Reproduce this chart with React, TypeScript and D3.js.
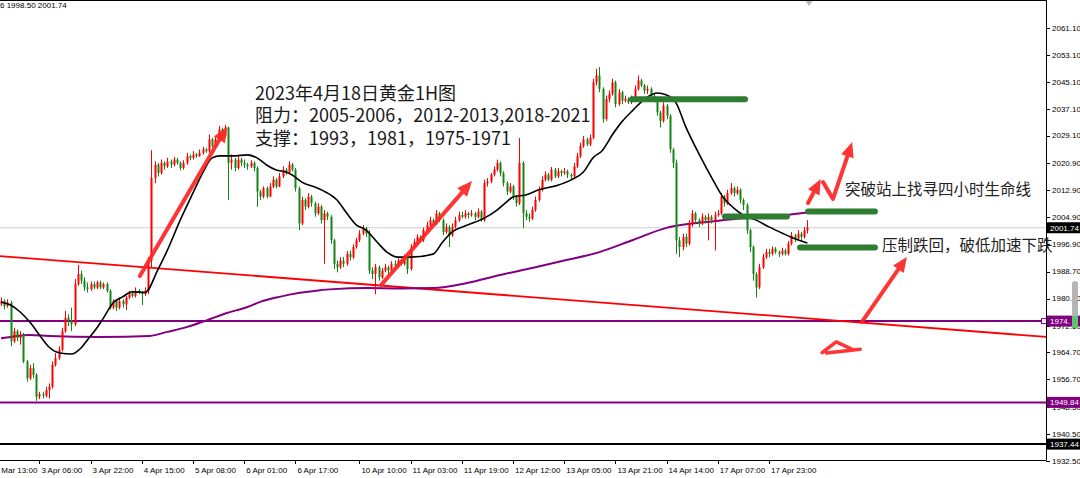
import React from 'react';
import * as d3 from 'd3';

// ---------- DATA ----------
const OPEN0 = 1979;
const closes = [
  1980, 1978.5, 1979.5, 1968, 1971, 1969, 1970, 1962, 1957, 1960,
  1958, 1951.5, 1952.2, 1951.8, 1953.5, 1954.5, 1961, 1963, 1965.5, 1971,
  1975, 1974, 1973, 1985, 1988, 1986, 1984, 1983.5, 1985, 1984,
  1985.5, 1984, 1985, 1983, 1978, 1980, 1978, 1980, 1979, 1981,
  1982.5, 1981.5, 1983, 1982.5, 1982, 1983, 1992, 2016.5, 2020.5, 2018,
  2021, 2020, 2021.5, 2020.5, 2022, 2021, 2019.5, 2021, 2023, 2022.5,
  2023.5, 2023, 2024, 2025, 2024.5, 2028, 2026, 2028, 2031, 2029,
  2031.5, 2021, 2022, 2019.5, 2022, 2021, 2020.5, 2020, 2021, 2019.5,
  2012.5, 2011, 2013.5, 2011, 2014, 2016, 2014, 2017, 2019, 2018,
  2020.5, 2019, 2013.5, 2003, 2010, 2008, 2011, 2009, 2006, 2008,
  2004, 2006, 2005, 1998, 1991, 1990, 1992, 1991, 1994, 1993,
  1996, 1998, 2000, 2001.5, 2000, 1989, 1988, 1990, 1987, 1989,
  1990, 1989, 1991, 1990.5, 1992, 1991, 1993, 1989.5, 1996, 1997.5,
  1999, 1998, 2001, 2002.5, 2004, 2003, 2006, 2004, 2000.5, 2002,
  1999.5, 2002, 2004, 2005.5, 2005, 2006, 2005.5, 2006, 2005, 2006.5,
  2004, 2015, 2015.5, 2017.5, 2019, 2021, 2018, 2015, 2012.5, 2014,
  2011, 2009, 2021, 2006, 2005, 2004.5, 2007, 2010, 2013, 2016,
  2017.5, 2016, 2019, 2017, 2018.5, 2018, 2018.5, 2017.5, 2017, 2020,
  2023, 2026, 2028, 2026.5, 2028.5, 2045, 2047, 2043, 2034, 2040,
  2041.5, 2045, 2038.5, 2042, 2039.5, 2040, 2039, 2040.5, 2043, 2045.5,
  2044, 2042.5, 2043, 2041, 2040, 2036, 2033.5, 2038, 2035, 2025,
  2021, 1998, 1996, 1999, 1997, 2003, 2006, 2004, 2003, 2005,
  2004, 2005, 2004, 2005.5, 2006, 2011, 2009, 2012, 2013.5, 2012,
  2013, 2010, 2008.5, 2001, 1996, 1988, 1984, 1990, 1993, 1994.5,
  1994, 1995.5, 1994.5, 1994, 1995, 1994, 1997, 1999.5, 1998.5, 2000,
  1999, 2001, 2001.74,
];
const highs = [
  1981, 1980.5, 1980.5, 1980, 1972, 1971.5, 1971, 1970.5, 1962.5, 1961,
  1961.5, 1958.5, 1953, 1953, 1954.5, 1955.5, 1962, 1964.5, 1966.5, 1972,
  1977, 1976, 1978, 1986.5, 1990.7, 1989, 1987, 1985.5, 1985.8, 1985.8,
  1986, 1986, 1985.5, 1985.5, 1983.5, 1980.5, 1980.5, 1981, 1980.5, 1981.5,
  1983, 1983, 1984, 1983.5, 1983, 1984, 1993, 2024.8, 2021.5, 2021,
  2022, 2021.5, 2022.5, 2022, 2022.8, 2022.5, 2021.5, 2021.8, 2024, 2023.5,
  2024.5, 2024, 2025, 2025.8, 2025.5, 2029.5, 2028.5, 2028.8, 2032, 2031.5,
  2032.3, 2031.8, 2023.5, 2022.5, 2023, 2022.5, 2022, 2021, 2021.8, 2021.5,
  2020, 2013, 2014, 2014, 2015, 2017, 2016.5, 2018, 2020, 2019.5,
  2021.5, 2021, 2019.5, 2014, 2011, 2010.5, 2012, 2011.5, 2009.5, 2009,
  2008.5, 2007, 2006.5, 2005.5, 1998.5, 1992, 1993, 1993, 1994.8, 1995,
  1996.8, 1998.8, 2001, 2002.5, 2002, 2001, 1990, 1991, 1990.5, 1989.8,
  1991, 1990.5, 1991.8, 1992, 1992.8, 1992.5, 1993.8, 1993.5, 1996.8, 1998.5,
  1999.8, 1999.5, 2001.8, 2003.5, 2005, 2004.5, 2007, 2006.5, 2004.5, 2003,
  2002.5, 2003, 2005, 2006.5, 2006.5, 2007, 2006.5, 2007, 2006.5, 2007.5,
  2007, 2016, 2016.5, 2018, 2020, 2022, 2021.5, 2018.5, 2015.5, 2015,
  2014.5, 2011.5, 2028.4, 2021.5, 2007, 2006, 2008, 2011, 2014, 2017,
  2018.5, 2018, 2019.8, 2019.5, 2019.5, 2019, 2019.5, 2019, 2018, 2021,
  2024, 2027, 2029, 2028.5, 2029.5, 2046, 2049, 2049.5, 2043.5, 2041,
  2042.5, 2046, 2045.5, 2043, 2042.5, 2041, 2040.5, 2041, 2044, 2047,
  2046, 2044.5, 2044, 2043.5, 2041.5, 2040.5, 2036.5, 2039, 2038.5, 2035.5,
  2025.5, 2022, 1999, 2000, 2000, 2004, 2007, 2006.5, 2004.5, 2006,
  2005.5, 2006, 2005.5, 2006.5, 2007, 2012, 2011.5, 2013, 2015, 2014,
  2014, 2013.5, 2010.5, 2009, 2001.5, 1996.5, 1988.5, 1991, 1994, 1995.5,
  1995.5, 1996.2, 1996, 1995, 1995.8, 1995.5, 1997.8, 2000.5, 2000, 2001,
  2000.5, 2002, 2004,
];
const lows = [
  1978.5, 1977.5, 1978, 1966.5, 1967.5, 1968, 1967, 1961.5, 1956, 1956.5,
  1957, 1950.3, 1950.8, 1951, 1951.3, 1951, 1954, 1960.5, 1962.5, 1965,
  1970.5, 1972.5, 1971, 1972.5, 1984.5, 1985, 1983, 1982.5, 1983, 1983.5,
  1983.5, 1983.5, 1983.5, 1982.5, 1977.5, 1977.5, 1977, 1977.5, 1978, 1977.3,
  1980.5, 1981, 1981, 1982, 1978.8, 1981.5, 1982, 1990, 2015, 2017,
  2017.5, 2019, 2019.5, 2019.5, 2020, 2020.5, 2018.8, 2019, 2020.5, 2021.8,
  2022, 2022.5, 2022.8, 2023.5, 2024, 2024, 2025.5, 2025.5, 2027.5, 2028,
  2028.5, 2010, 2019, 2018.5, 2019, 2020, 2019.5, 2019, 2019.5, 2018.5,
  2008, 2010, 2010.5, 2010.5, 2010.8, 2013.5, 2013.5, 2013.8, 2016.5, 2017.5,
  2017.8, 2018.5, 2012.5, 2001, 2002.5, 2007, 2007.5, 2008, 2005, 2005.5,
  2003, 1991, 2004, 1997, 1989.5, 1988.5, 1989.5, 1990, 1990.5, 1992,
  1992.5, 1995.5, 1997.5, 1999.5, 1999, 1988, 1986.5, 1982, 1986, 1986.5,
  1988.5, 1988, 1988.5, 1989.5, 1990, 1990.5, 1990.5, 1988, 1989, 1995.5,
  1997, 1997.5, 1997.5, 2000.5, 2002, 2002.5, 2002.5, 2003.5, 1999.5, 2000,
  1996, 1999, 2001.5, 2003.5, 2004.5, 2004.5, 2004.5, 2005, 2004, 2004.5,
  2003.5, 2003.5, 2014, 2015, 2017, 2018.5, 2017, 2014, 2011.5, 2012,
  2010, 2008, 2008.5, 2001.6, 2004, 2003.5, 2004, 2006.5, 2009.5, 2012.5,
  2015.5, 2015.5, 2015.5, 2016.5, 2016.5, 2017, 2017.5, 2016.5, 2016, 2016.5,
  2019.5, 2022.5, 2025.5, 2026, 2026, 2028, 2044, 2042, 2033, 2033.5,
  2039, 2041, 2037.5, 2038, 2038.5, 2039, 2038.5, 2038.5, 2040, 2042.5,
  2043.5, 2041.5, 2041.5, 2040, 2039, 2035, 2031.5, 2033, 2034, 2024,
  2019.5, 1994, 1993, 1995, 1996, 1996.5, 2002, 2003, 2002, 2002.5,
  2003, 1998, 2003, 1995, 2005, 2005.5, 2008, 2008.5, 2011.5, 2011,
  2011.5, 2009, 2007, 2000, 1994.5, 1986, 1981, 1983.5, 1989.5, 1992.5,
  1993, 1993.5, 1994, 1993, 1993.5, 1993.5, 1993.5, 1996.5, 1997.5, 1998,
  1998, 1998.5, 2000,
];

// moving averages: [bar index, price]
const blackMA: [number, number][] = [
  [0, 1979.7], [3, 1978.8], [6, 1976.7], [9, 1973.7], [12, 1969.9], [15, 1966.3], [18.5, 1964.5],
  [22, 1964.2], [25, 1966], [27, 1968.4], [30, 1972], [32, 1974.9], [35, 1979.4], [38, 1981.2],
  [41, 1982.7], [45, 1982.5], [49, 1989.2], [52, 1995.1], [56, 2004], [60, 2012.1], [63, 2018],
  [66, 2022.5], [68.4, 2023.1], [72.5, 2023.1], [77, 2023.4], [80, 2022.5], [83, 2020.4],
  [86, 2018.9], [89, 2018.3], [91, 2017.4], [94, 2015.3], [99, 2013.5], [103, 2011.5], [105, 2010],
  [108, 2006.1], [111, 2002.6], [114, 2001.1], [117.5, 1997.5], [120.6, 1994.5], [124, 1993],
  [128, 1993], [135, 1993.9], [138, 1997.5], [141, 2000.5], [146, 2002.6], [151, 2004.6],
  [155, 2007], [158, 2009.4], [160, 2010.9], [164, 2011.5], [168, 2013], [174, 2014.4],
  [178, 2015.9], [182, 2018.3], [185, 2022.5], [188, 2024.8], [191, 2029.3], [194, 2033.2],
  [197.5, 2036.7], [202, 2040.6], [205, 2041.8], [208, 2041.2], [211, 2038.8], [214, 2031.7],
  [218, 2023.9], [222.5, 2015.9], [225.6, 2010.9], [229, 2007.6], [232, 2005.5], [236, 2004],
  [240, 2002], [244, 2000.2], [247.5, 1998.7], [252, 1997.2],
];
const purpleMA: [number, number][] = [
  [0, 1968.9], [3, 1969.3], [9, 1969.9], [15, 1969.6], [31, 1969.3], [46.5, 1969.6], [52, 1970.8],
  [58, 1972.2], [64.4, 1974.3], [70.6, 1976.4], [77, 1978.2], [81, 1979.7], [87, 1981.2],
  [93.4, 1982.4], [99.7, 1983.2], [104, 1983.5], [114, 1983.8], [125, 1983.7], [135, 1983.8],
  [145.6, 1985.3], [156, 1987.7], [166, 1989.8], [177, 1992.2], [187, 1994.5], [197.5, 1998.1],
  [208, 2001.7], [213, 2002.6], [218, 2003.2], [228.7, 2004.3], [239, 2004.9], [252, 2006.3],
];

const trendLine: [number, number][] = [[-0.3, 1993.3], [326.6, 1969.3]];
const purpleLevels = [1974, 1949.84];
const blackLevel = 1937.44;
const lastPrice = 2001.74;

const greenMarks: [number, number][][] = [
  [[197.2, 2039.9], [232.5, 2039.9]],
  [[226.25, 2005.1], [245.6, 2005.1]],
  [[252.2, 2006.6], [273.1, 2006.6]],
  [[249.7, 1995.9], [273.1, 1995.9]],
];
const redArrows: [number, number][][] = [
  [[43.4, 1987.4], [70.6, 2031.7]],
  [[118.75, 1984.7], [147.2, 2015.6]],
  [[252.2, 2009.1], [256.2, 2016.2]],
  [[256.9, 2015.3], [260, 2010.3], [266, 2027.2]],
  [[269, 1973.7], [283.1, 1993.05]],
];
const redScribble: [number, number][] = [
  [256.6, 1964.6], [261, 1967.8], [266.5, 1965.4], [258, 1964.5], [268.5, 1965.6],
];

const yTickValues = [2061.1, 2053.1, 2045.1, 2037.1, 2029.1, 2020.9, 2012.9, 2004.9, 1996.9,
  1988.7, 1980.7, 1972.5, 1964.7, 1956.7, 1948.5, 1940.5, 1932.5];
const xTickBars = [-4, 12, 28, 44, 60, 76, 92, 112, 128, 144, 160, 176, 192, 208, 224, 240];
const xTickLabels = ['31 Mar 13:00', '3 Apr 06:00', '3 Apr 22:00', '4 Apr 15:00', '5 Apr 08:00',
  '6 Apr 01:00', '6 Apr 17:00', '10 Apr 10:00', '11 Apr 03:00', '11 Apr 19:00', '12 Apr 12:00',
  '13 Apr 05:00', '13 Apr 21:00', '14 Apr 14:00', '17 Apr 07:00', '17 Apr 23:00'];

const titleLines = ['2023年4月18日黄金1H图', '阻力：2005-2006，2012-2013,2018-2021', '支撑：1993，1981，1975-1971'];
const noteUp = '突破站上找寻四小时生命线';
const noteDown = '压制跌回，破低加速下跌';

// ---------- CHART ----------
const W = 1080, H = 478;
const PR = 1046, PB = 460;
const UP = '#ff0000', DOWN = '#138613', PURPLE = '#800080', GREENMARK = '#2e7d32', ARROW = '#ff2424';
const AXFONT = "'Liberation Sans', Arial, sans-serif";
const CJK = "'Noto Sans CJK SC', sans-serif";

export default function App() {
  const x = d3.scaleLinear().domain([0, 252]).range([1, 807.4]);
  const y = d3.scaleLinear().domain([1932.72, 2069.42]).range([PB, 0]);
  const line = d3.line<[number, number]>().x(d => x(d[0])).y(d => y(d[1]));
  const smooth = d3.line<[number, number]>().x(d => x(d[0])).y(d => y(d[1])).curve(d3.curveMonotoneX);

  const candles = closes.map((c, i) => {
    const o = i === 0 ? OPEN0 : closes[i - 1];
    return { i, o, c, h: highs[i], l: lows[i] };
  });

  const arrowHead = (pts: [number, number][]) => {
    const n = pts.length;
    const [x1, y1] = [x(pts[n - 2][0]), y(pts[n - 2][1])];
    const [x2, y2] = [x(pts[n - 1][0]), y(pts[n - 1][1])];
    const a = Math.atan2(y2 - y1, x2 - x1);
    const len = 15, hw = 6.5;
    const bx = x2 - len * Math.cos(a), by = y2 - len * Math.sin(a);
    const px = -Math.sin(a) * hw, py = Math.cos(a) * hw;
    return `${x2},${y2} ${bx + px},${by + py} ${bx - px},${by - py}`;
  };
  const shaftEnd = (pts: [number, number][]) => {
    const n = pts.length;
    const [x1, y1] = [x(pts[n - 2][0]), y(pts[n - 2][1])];
    const [x2, y2] = [x(pts[n - 1][0]), y(pts[n - 1][1])];
    const a = Math.atan2(y2 - y1, x2 - x1);
    const path = pts.slice(0, n - 1).map(p => [x(p[0]), y(p[1])]);
    path.push([x2 - 10 * Math.cos(a), y2 - 10 * Math.sin(a)]);
    return 'M' + path.map(p => p.join(',')).join('L');
  };

  return (
    <div style={{ position: 'fixed', left: 0, top: 0 }}>
      <svg width={W} height={H} viewBox={`0 0 ${W} ${H}`} style={{ display: 'block', background: '#fff' }}>
        <rect x={0} y={0} width={W} height={H} fill="#fff" />
        {/* current price line */}
        <line x1={0} x2={PR} y1={y(lastPrice)} y2={y(lastPrice)} stroke="#cfcfcf" strokeWidth={1} />
        {/* horizontal levels */}
        {purpleLevels.map(v => (
          <line key={v} x1={0} x2={PR} y1={y(v)} y2={y(v)} stroke={PURPLE} strokeWidth={2} />
        ))}
        <line x1={0} x2={PR} y1={y(blackLevel)} y2={y(blackLevel)} stroke="#000" strokeWidth={2} />
        <rect x={1041.5} y={y(purpleLevels[0]) - 2.5} width={5} height={5} fill="#fff" stroke={PURPLE} strokeWidth={1} />
        {/* trend line */}
        <path d={line(trendLine) || ''} stroke="#ff0000" strokeWidth={1.8} fill="none" />
        {/* moving averages */}
        <path d={smooth(purpleMA) || ''} stroke={PURPLE} strokeWidth={2} fill="none" />
        {/* candles */}
        <g>
          {candles.map(d => {
            const cx = Math.round(x(d.i)) + 0.5;
            const col = d.c >= d.o ? UP : DOWN;
            const top = y(Math.max(d.o, d.c));
            const bot = y(Math.min(d.o, d.c));
            return (
              <g key={d.i}>
                <line x1={cx} x2={cx} y1={y(d.h)} y2={y(d.l)} stroke={col} strokeWidth={1} />
                <rect x={cx - 1} y={top} width={2} height={Math.max(1, bot - top)} fill={col} />
              </g>
            );
          })}
        </g>
        <path d={smooth(blackMA) || ''} stroke="#000" strokeWidth={1.6} fill="none" />
        {/* green marker lines */}
        {greenMarks.map((g, k) => (
          <path key={k} d={line(g) || ''} stroke={GREENMARK} strokeWidth={6} strokeLinecap="round" fill="none" />
        ))}
        {/* red arrows */}
        {redArrows.map((a, k) => (
          <g key={k} opacity={0.92}>
            <path d={shaftEnd(a)} stroke={ARROW} strokeWidth={4} fill="none" strokeLinejoin="round" strokeLinecap="round" />
            <polygon points={arrowHead(a)} fill={ARROW} />
          </g>
        ))}
        <path d={line(redScribble) || ''} stroke={ARROW} strokeWidth={3.5} fill="none" strokeLinejoin="round" strokeLinecap="round" opacity={0.92} />
        {/* annotation text */}
        {titleLines.map((t, k) => (
          <text key={k} x={255} y={99.5 + k * 22.5} fontFamily={CJK} fontSize={18} fill="#1a1a1a">{t}</text>
        ))}
        <text x={845} y={195} fontFamily={CJK} fontSize={15.5} fill="#222">{noteUp}</text>
        <text x={882} y={251} fontFamily={CJK} fontSize={15.5} fill="#222">{noteDown}</text>
        {/* top info text */}
        <text x={0} y={8} fontFamily={AXFONT} fontSize={8} fill="#000">6 1998.50 2001.74</text>
        <polygon points="805,0 813,0 809,6" fill="#b8b8b8" />
        {/* frame */}
        <line x1={0} x2={PR} y1={0.5} y2={0.5} stroke="#000" strokeWidth={1} />
        <line x1={PR + 0.5} x2={PR + 0.5} y1={0} y2={PB} stroke="#000" strokeWidth={1} />
        <line x1={0} x2={PR + 0.5} y1={PB + 0.5} y2={PB + 0.5} stroke="#000" strokeWidth={1} />
        {/* y axis */}
        {yTickValues.map(v => (
          <g key={v}>
            <line x1={PR} x2={PR + 4} y1={Math.round(y(v)) + 0.5} y2={Math.round(y(v)) + 0.5} stroke="#000" strokeWidth={1} />
            <text x={1052} y={y(v)} dy="0.35em" fontFamily={AXFONT} fontSize={8} fill="#000">{v.toFixed(2)}</text>
          </g>
        ))}
        {/* x axis */}
        {xTickBars.map((b, k) => (
          <g key={b}>
            <line x1={Math.round(x(b)) + 0.5} x2={Math.round(x(b)) + 0.5} y1={PB} y2={PB + 4} stroke="#000" strokeWidth={1} />
            <text x={x(b) + 2} y={473} fontFamily={AXFONT} fontSize={8} fill="#000">{xTickLabels[k]}</text>
          </g>
        ))}
        {/* price label boxes */}
        <rect x={1047} y={y(lastPrice) - 5.5} width={33} height={11} fill="#000" />
        <text x={1050} y={y(lastPrice)} dy="0.35em" fontFamily={AXFONT} fontSize={8} fill="#fff">{lastPrice.toFixed(2)}</text>
        <rect x={1047} y={y(purpleLevels[0]) - 5.5} width={33} height={11} fill={PURPLE} />
        <text x={1050} y={y(purpleLevels[0])} dy="0.35em" fontFamily={AXFONT} fontSize={8} fill="#fff">1974.</text>
        <rect x={1047} y={y(purpleLevels[1]) - 5.5} width={33} height={11} fill={PURPLE} />
        <text x={1050} y={y(purpleLevels[1])} dy="0.35em" fontFamily={AXFONT} fontSize={8} fill="#fff">{purpleLevels[1].toFixed(2)}</text>
        <rect x={1047} y={y(blackLevel) - 5.5} width={33} height={11} fill="#000" />
        <text x={1050} y={y(blackLevel)} dy="0.35em" fontFamily={AXFONT} fontSize={8} fill="#fff">{blackLevel.toFixed(2)}</text>
        {/* overlay slider */}
        <rect x={1072} y={281} width={6} height={38} rx={3} fill="#b5b5b5" />
        <rect x={1072} y={316} width={6} height={12} fill="#5cc46c" />
      </svg>
    </div>
  );
}
